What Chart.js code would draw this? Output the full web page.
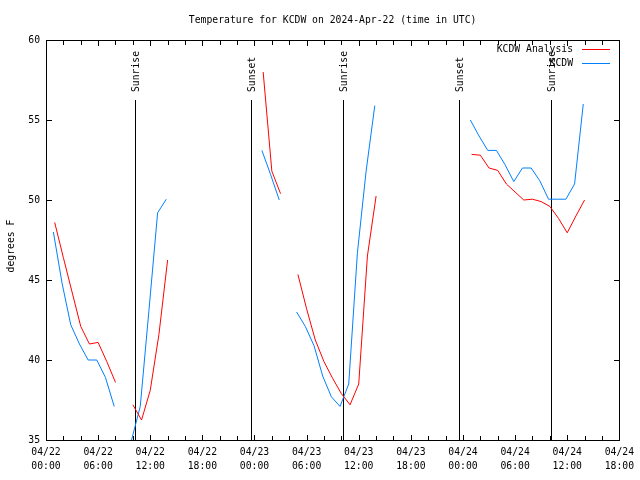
<!DOCTYPE html>
<html>
<head>
<meta charset="utf-8">
<script src="https://cdn.jsdelivr.net/npm/chart.js@4/dist/chart.umd.min.js"></script>
<style>
html,body{margin:0;padding:0;background:#fff;}
#wrap{width:640px;height:480px;position:relative;}
</style>
</head>
<body>
<div id="wrap"><canvas id="c" width="640" height="480"></canvas></div>
<script>
// Hours since 2024-04-22 00:00 UTC
const hours = [1,2,3,4,5,6,7,8,9,10,11,12,13,14,15,16,17,18,19,20,21,22,23,24,25,26,27,28,29,30,31,32,33,34,35,36,37,38,39,40,41,42,43,44,45,46,47,48,49,50,51,52,53,54,55,56,57,58,59,60,61,62];
// Observation times (METAR, HH:51)
const obsHours = [0.85,1.85,2.85,3.85,4.85,5.85,6.85,7.85,8.85,9.85,10.85,11.85,12.85,13.85,14.85,15.85,16.85,17.85,18.85,19.85,20.85,21.85,22.85,23.85,24.85,25.85,26.85,27.85,28.85,29.85,30.85,31.85,32.85,33.85,34.85,35.85,36.85,37.85,38.85,39.85,40.85,41.85,42.85,43.85,44.85,45.85,46.85,47.85,48.85,49.85,50.85,51.85,52.85,53.85,54.85,55.85,56.85,57.85,58.85,59.85,60.85,61.85];

const analysis = [
  48.6, 46.4, 44.25, 42.1, 41.0, 41.1, 39.9, 38.6,
  null,
  37.2, 36.25, 38.1, 41.6, 46.25,
  null, null, null, null, null, null, null, null, null, null,
  58.0, 51.8, 50.4,
  null,
  45.35, 43.2, 41.25, 39.9, 38.85, 37.9, 37.2, 38.5, 46.5, 50.25,
  null, null, null, null, null, null, null, null, null, null,
  52.85, 52.8, 52.0, 51.85, 51.0, 50.5, 50.0, 50.05, 49.9, 49.6, 48.85, 47.95, 49.0, 50.0
];

const observed = [
  48.0, 44.8, 42.2, 41.0, 40.0, 40.0, 38.9, 37.1,
  null,
  35.0, 37.1, 43.1, 49.2, 50.05,
  null, null, null, null, null, null, null, null, null, null,
  53.1, 51.6, 50.0,
  null,
  43.0, 42.1, 40.9, 39.0, 37.7, 37.1, 38.5, 46.7, 51.8, 55.9,
  null, null, null, null, null, null, null, null, null, null,
  55.0, 54.0, 53.1, 53.1, 52.2, 51.15, 52.0, 52.0, 51.2, 50.05, 50.05, 50.05, 51.0, 56.0
];

const seriesNames = ['KCDW Analysis', 'KCDW'];
const seriesColors = ['#ff0000', '#0080ff'];

const sunHours = [10.2, 23.65, 34.17, 47.6, 58.1];
const sunLabels = ['Sunrise', 'Sunset', 'Sunrise', 'Sunset', 'Sunrise'];
const sunLineTop = 56.25;

const xTickHours = [0, 6, 12, 18, 24, 30, 36, 42, 48, 54, 60, 66];
const xTickDates = ['04/22','04/22','04/22','04/22','04/23','04/23','04/23','04/23','04/24','04/24','04/24','04/24'];
const xTickTimes = ['00:00','06:00','12:00','18:00','00:00','06:00','12:00','18:00','00:00','06:00','12:00','18:00'];
const yTicks = [35, 40, 45, 50, 55, 60];

const titleText = 'Temperature for KCDW on 2024-Apr-22 (time in UTC)';
const yTitle = 'degrees F';

const FONT_FAMILY = '"DejaVu Sans Mono", "Liberation Mono", monospace';
const FONT = '9.75px ' + FONT_FAMILY;

const deco = {
  id: 'deco',
  beforeDatasetsDraw(chart) {
    const {ctx, chartArea: a, scales: {x, y}} = chart;
    ctx.save();
    ctx.fillStyle = '#000';
    ctx.font = FONT;
    sunHours.forEach((h, i) => {
      const px = Math.round(x.getPixelForValue(h));
      const top = Math.round(y.getPixelForValue(sunLineTop));
      ctx.fillStyle = '#000';
      ctx.fillRect(px, top, 1, a.bottom - top);
      ctx.save();
      ctx.translate(px + 1.5, top - 8);
      ctx.rotate(-Math.PI / 2);
      ctx.textAlign = 'left';
      ctx.textBaseline = 'middle';
      ctx.fillText(sunLabels[i], 0, 0);
      ctx.restore();
    });
    ctx.restore();
  },
  afterDraw(chart) {
    const {ctx, chartArea: a, scales: {x, y}} = chart;
    ctx.save();
    ctx.fillStyle = '#000';
    const L = Math.round(a.left), R = Math.round(a.right);
    const T = Math.round(a.top), B = Math.round(a.bottom);
    // frame
    ctx.fillRect(L, T, R - L + 1, 1);
    ctx.fillRect(L, B, R - L + 1, 1);
    ctx.fillRect(L, T, 1, B - T + 1);
    ctx.fillRect(R, T, 1, B - T + 1);
    // x ticks (every 2 h), inward, bottom and top
    for (let h = x.min + 2; h < x.max; h += 2) {
      const px = Math.round(x.getPixelForValue(h));
      const len = (h % 6 === 0) ? 5 : 4;
      ctx.fillRect(px, B - len, 1, len);
      ctx.fillRect(px, T + 1, 1, len);
    }
    // y ticks, inward, left and right
    yTicks.forEach(v => {
      const py = Math.round(y.getPixelForValue(v));
      ctx.fillRect(L + 1, py, 5, 1);
      ctx.fillRect(R - 5, py, 5, 1);
    });

    ctx.font = FONT;
    // title
    ctx.textAlign = 'center';
    ctx.textBaseline = 'middle';
    ctx.fillText(titleText, (a.left + a.right) / 2, 20);
    // y title
    ctx.save();
    ctx.translate(11, 246);
    ctx.rotate(-Math.PI / 2);
    ctx.fillText(yTitle, 0, 0);
    ctx.restore();
    // legend
    ctx.textAlign = 'right';
    seriesNames.forEach((name, i) => {
      const ly = 49 + i * 14;
      ctx.fillStyle = '#000';
      ctx.fillText(name, 573, ly);
      ctx.fillStyle = seriesColors[i];
      ctx.fillRect(582, ly, 28, 1);
    });
    ctx.restore();
  }
};

new Chart(document.getElementById('c'), {
  type: 'line',
  data: {
    datasets: [
      {
        label: seriesNames[0],
        data: hours.map((h, i) => ({x: h, y: analysis[i]})),
        borderColor: seriesColors[0],
        borderWidth: 1,
        pointRadius: 0,
        tension: 0,
        spanGaps: false,
        fill: false
      },
      {
        label: seriesNames[1],
        data: obsHours.map((h, i) => ({x: h, y: observed[i]})),
        borderColor: seriesColors[1],
        borderWidth: 1,
        pointRadius: 0,
        tension: 0,
        spanGaps: false,
        fill: false
      }
    ]
  },
  options: {
    responsive: false,
    animation: false,
    devicePixelRatio: 1,
    layout: {padding: {top: 40, right: 18, bottom: 0, left: 0}},
    plugins: {
      legend: {display: false},
      title: {display: false},
      tooltip: {enabled: false}
    },
    scales: {
      x: {
        type: 'linear',
        min: 0,
        max: 66,
        afterFit(s) { s.height = 40; },
        afterBuildTicks(s) { s.ticks = xTickHours.map(v => ({value: v})); },
        grid: {display: false, drawTicks: false},
        border: {display: false},
        ticks: {
          padding: 6,
          color: '#000',
          maxRotation: 0,
          autoSkip: false,
          font: {family: FONT_FAMILY, size: 9.75, lineHeight: 1.4},
          callback: (v) => {
            const i = xTickHours.indexOf(v);
            return i >= 0 ? [xTickDates[i], xTickTimes[i]] : '';
          }
        }
      },
      y: {
        type: 'linear',
        min: 35,
        max: 60,
        afterFit(s) { s.width = 46; },
        afterBuildTicks(s) { s.ticks = yTicks.map(v => ({value: v})); },
        grid: {display: false, drawTicks: false},
        border: {display: false},
        ticks: {
          padding: 6,
          color: '#000',
          font: {family: FONT_FAMILY, size: 9.75}
        }
      }
    }
  },
  plugins: [deco]
});
</script>
</body>
</html>
